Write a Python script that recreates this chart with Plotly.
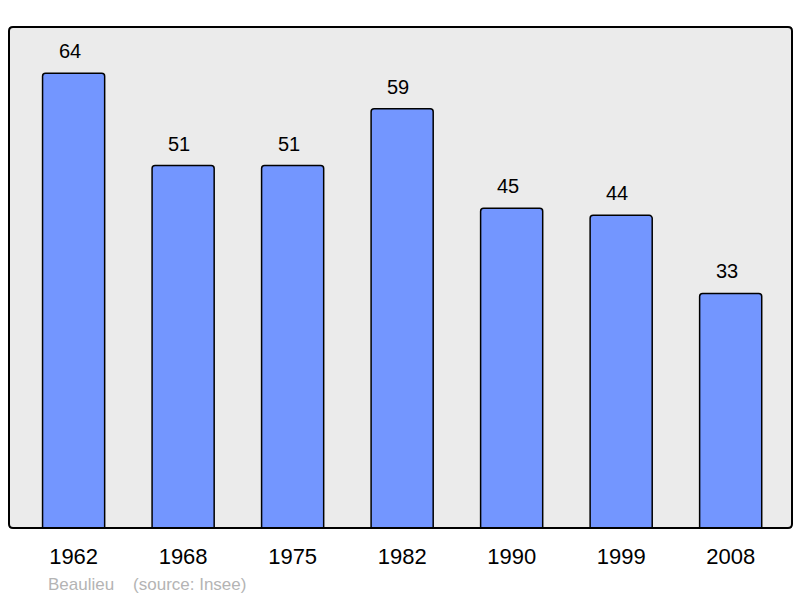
import plotly.graph_objects as go

years = ["1962", "1968", "1975", "1982", "1990", "1999", "2008"]
population = [64, 51, 51, 59, 45, 44, 33]
source_text = "Beaulieu\u00a0\u00a0\u00a0\u00a0(source: Insee)"

W, H = 800, 598
ml, mr, mt, mb = 9, 8, 27, 70
pw, ph = W - ml - mr, H - mt - mb
FONT = "Liberation Sans, Arial, sans-serif"

fig = go.Figure()
fig.add_trace(go.Bar(
    x=years, y=population,
    width=0.567,
    marker=dict(color="#7396ff", line=dict(color="#000000", width=1.5), cornerradius=3),
    hoverinfo="skip",
))

# value labels (x = category serial number on the category axis)
for i, v in enumerate(population):
    fig.add_annotation(x=i, y=v, text=str(v), showarrow=False,
                       yanchor="middle", yshift=22, xshift=-4,
                       font=dict(family=FONT, size=20, color="#000000"))

fig.add_annotation(xref="paper", yref="paper", x=(46 - ml) / pw, y=(528 - 584) / ph,
                   xanchor="left", yanchor="middle", showarrow=False, text=source_text,
                   font=dict(family=FONT, size=17, color="#b4b4b4"))

# rounded plot frame
rx, ry = 4 / pw, 4 / ph
path = (f"M {rx},0 L {1-rx},0 Q 1,0 1,{ry} L 1,{1-ry} Q 1,1 {1-rx},1 "
        f"L {rx},1 Q 0,1 0,{1-ry} L 0,{ry} Q 0,0 {rx},0 Z")
fig.add_shape(type="path", xref="paper", yref="paper", path=path,
              line=dict(color="#000000", width=2), layer="above")

fig.update_layout(
    width=W, height=H,
    margin=dict(l=ml, r=mr, t=mt, b=mb),
    paper_bgcolor="#ffffff", plot_bgcolor="#ebebeb",
    showlegend=False,
    xaxis=dict(type="category", range=[-0.59, 6.56], showgrid=False, zeroline=False,
               showline=False, ticks="", ticklabelstandoff=13,
               tickfont=dict(family=FONT, size=22, color="#000000")),
    yaxis=dict(range=[0, 70.5], visible=False, showgrid=False, zeroline=False),
)

fig.write_html("out.html", config={"displayModeBar": False},
               post_script="document.body.style.margin='0';")
